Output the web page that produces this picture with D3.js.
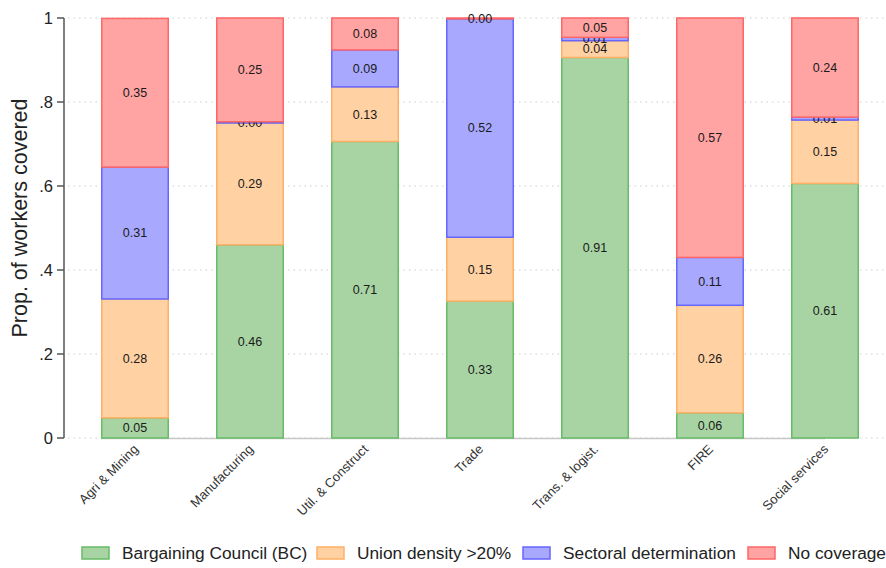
<!DOCTYPE html>
<html>
<head>
<meta charset="utf-8">
<script src="https://cdn.jsdelivr.net/npm/d3@7"></script>
<style>
  body { margin: 0; background: #fff; }
  svg { display: block; font-family: "Liberation Sans", Arial, sans-serif; }
</style>
</head>
<body>
<div id="chart"></div>
<script>
// ── Data ──────────────────────────────────────────────────────────────
const categories = ['Agri & Mining', 'Manufacturing', 'Util. & Construct', 'Trade',
                    'Trans. & logist.', 'FIRE', 'Social services'];
const seriesNames = ['Bargaining Council (BC)', 'Union density >20%', 'Sectoral determination', 'No coverage'];
const bcValues     = [0.048, 0.460, 0.706, 0.326, 0.906, 0.060, 0.606];
const unionValues  = [0.283, 0.290, 0.130, 0.152, 0.040, 0.256, 0.151];
const sectValues   = [0.314, 0.003, 0.088, 0.520, 0.008, 0.114, 0.007];
const noneValues   = [0.354, 0.247, 0.076, 0.002, 0.046, 0.570, 0.236];
const yTicks       = [0, 0.2, 0.4, 0.6, 0.8, 1];
const yTickLabels  = ['0', '.2', '.4', '.6', '.8', '1'];

const fills   = ['#a8d4a3', '#ffd1a3', '#a8a8ff', '#ffa3a3'];
const strokes = ['#66bb66', '#ffb066', '#6666ff', '#ff6666'];

const W = 886, H = 568;
const margin = { left: 64, top: 18, bottom: 130 };
const plotH = H - margin.top - margin.bottom; // 420

const svg = d3.select('#chart').append('svg').attr('width', W).attr('height', H);

const x = d3.scaleBand().domain(categories)
  .range([64, 896]).paddingInner(0.409).paddingOuter(0.322);
const y = d3.scaleLinear().domain([0, 1]).range([margin.top + plotH, margin.top]);

// Gridlines (dotted)
svg.append('g').selectAll('line').data(yTicks).join('line')
  .attr('x1', margin.left + 4).attr('x2', 885)
  .attr('y1', d => y(d)).attr('y2', d => y(d))
  .attr('stroke', '#d0d0d0').attr('stroke-width', 1.2)
  .attr('stroke-dasharray', '1.5,4');

// X baseline
svg.append('line')
  .attr('x1', x(categories[0])).attr('x2', x(categories[6]) + x.bandwidth() / 2)
  .attr('y1', y(0) + 0.5).attr('y2', y(0) + 0.5)
  .attr('stroke', '#c8c8c8').attr('stroke-width', 1.5);

// Stack
const rows = categories.map((c, i) => ({
  cat: c, s0: bcValues[i], s1: unionValues[i], s2: sectValues[i], s3: noneValues[i]
}));
const stack = d3.stack().keys(['s0', 's1', 's2', 's3'])(rows);

const layers = svg.append('g').selectAll('g').data(stack).join('g');
layers.selectAll('rect').data(d => d).join('rect')
  .attr('x', d => x(d.data.cat) + 0.75)
  .attr('width', x.bandwidth() - 1.5)
  .attr('y', d => y(d[1]))
  .attr('height', d => Math.max(0, y(d[0]) - y(d[1])))
  .attr('fill', function () { return fills[d3.select(this.parentNode).datum().index]; })
  .attr('stroke', function () { return strokes[d3.select(this.parentNode).datum().index]; })
  .attr('stroke-width', 1.5);

// Segment labels
layers.selectAll('text').data(d => d).join('text')
  .attr('x', d => x(d.data.cat) + x.bandwidth() / 2)
  .attr('y', d => (y(d[0]) + y(d[1])) / 2)
  .attr('dy', '0.35em')
  .attr('text-anchor', 'middle')
  .attr('font-size', 12.5)
  .attr('fill', '#1a1a1a')
  .text(d => (d[1] - d[0]).toFixed(2));

// Y axis
const yAxis = svg.append('g').attr('transform', `translate(${margin.left},0)`);
yAxis.append('line').attr('y1', y(0)).attr('y2', y(1)).attr('stroke', '#555').attr('stroke-width', 1.5);
yAxis.selectAll('.tick').data(yTicks).join('line')
  .attr('x1', -7).attr('x2', 0).attr('y1', d => y(d)).attr('y2', d => y(d))
  .attr('stroke', '#555').attr('stroke-width', 1.5);
yAxis.selectAll('text').data(yTicks).join('text')
  .attr('x', -11).attr('y', d => y(d)).attr('dy', '0.35em')
  .attr('text-anchor', 'end').attr('font-size', 16.5).attr('fill', '#222')
  .text((d, i) => yTickLabels[i]);

svg.append('text')
  .attr('transform', `translate(27,218) rotate(-90)`)
  .attr('text-anchor', 'middle').attr('font-size', 21.5).attr('fill', '#222')
  .text('Prop. of workers covered');

// X category labels
svg.append('g').selectAll('text').data(categories).join('text')
  .attr('transform', d => `translate(${x(d) + x.bandwidth() / 2 + 4},${y(0) + 12}) rotate(-45)`)
  .attr('text-anchor', 'end').attr('font-size', 13).attr('fill', '#333')
  .text(d => d);

// Legend
const legendX = [82, 317, 523, 748];
const legend = svg.append('g').selectAll('g').data(seriesNames).join('g')
  .attr('transform', (d, i) => `translate(${legendX[i]},553)`);
legend.append('rect')
  .attr('x', 0).attr('y', -6).attr('width', 27).attr('height', 12)
  .attr('fill', (d, i) => fills[i]).attr('stroke', (d, i) => strokes[i]).attr('stroke-width', 1.5);
legend.append('text')
  .attr('x', 40).attr('dy', '0.35em').attr('font-size', 17.3).attr('fill', '#222')
  .text(d => d);
</script>
</body>
</html>
